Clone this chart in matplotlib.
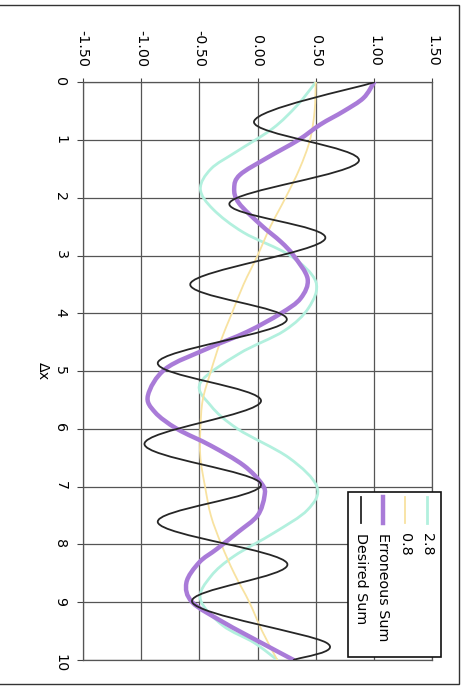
import matplotlib
matplotlib.use("Agg")
import matplotlib.pyplot as plt
import numpy as np
from matplotlib.path import Path
from matplotlib.patches import PathPatch, Rectangle
from matplotlib.lines import Line2D

# values (dx along the vertical axis, value along the horizontal)
cyan_dx = [0, 0.4, 0.8, 1.2, 1.5, 1.85, 2.2, 2.6, 3.0, 3.45, 3.9, 4.3, 4.7, 5.2, 5.6,
           6.0, 6.5, 7.0, 7.4, 7.8, 8.2, 8.55, 8.95, 9.4, 9.7, 10]
cyan_val = [0.50, 0.34, 0.13, -0.18, -0.40, -0.49, -0.38, -0.12, 0.28, 0.50, 0.44, 0.23,
            -0.16, -0.49, -0.40, -0.17, 0.27, 0.51, 0.43, 0.14, -0.20, -0.40, -0.49,
            -0.30, -0.03, 0.17]

yellow_dx = [0, 0.5, 1, 1.5, 2, 2.5, 3, 3.5, 4, 4.5, 5, 5.5, 6, 6.5, 7, 7.5, 8, 8.5, 9, 9.5, 10]
yellow_val = [0.50, 0.49, 0.45, 0.36, 0.24, 0.11, 0.00, -0.12, -0.22, -0.32, -0.40, -0.47,
              -0.49, -0.49, -0.45, -0.40, -0.31, -0.20, -0.07, 0.04, 0.17]

purple_dx = [0, 0.27, 0.5, 0.73, 1.0, 1.31, 1.6, 1.83, 2.09, 2.47, 2.76, 3.0, 3.4, 3.74,
             4.0, 4.32, 4.61, 4.96, 5.42, 5.71, 6.0, 6.29, 6.63, 6.96, 7.16, 7.5, 7.79,
             8.08, 8.31, 8.66, 9.0, 9.35, 9.7, 10]
purple_val = [1.00, 0.91, 0.74, 0.54, 0.35, 0.08, -0.15, -0.20, -0.16, 0.03, 0.20, 0.31,
              0.43, 0.37, 0.20, -0.09, -0.43, -0.79, -0.94, -0.88, -0.69, -0.40, -0.12,
              0.04, 0.06, 0.00, -0.17, -0.35, -0.50, -0.61, -0.56, -0.29, 0.03, 0.31]

black_dx = [0, 0.68, 1.36, 2.09, 2.71, 3.48, 4.12, 4.85, 5.52, 6.26, 6.96, 7.62, 8.33,
            9.0, 9.70, 10]
black_val = [1.00, -0.03, 0.87, -0.24, 0.58, -0.575, 0.25, -0.855, 0.03, -0.97, 0.03,
             -0.855, 0.255, -0.56, 0.59, 0.31]

labels = ["2.8", "0.8", "Erroneous Sum", "Desired Sum"]
colors = ["#b2f0de", "#f8e2a0", "#a97bd8", "#262626"]
widths = [2.0, 1.3, 3.2, 1.3]
value_ticks = [-1.5, -1.0, -0.5, 0.0, 0.5, 1.0, 1.5]
dx_ticks = list(range(0, 11))

W, H = 466, 687


def smooth(vals, dxs):
    # excel-like smoothed line (catmull-rom as cubic beziers)
    pts = np.column_stack([vals, dxs]).astype(float)
    n = len(pts)
    verts = [pts[0]]
    codes = [Path.MOVETO]
    for i in range(n - 1):
        p0 = pts[max(i - 1, 0)]
        p1 = pts[i]
        p2 = pts[i + 1]
        p3 = pts[min(i + 2, n - 1)]
        verts += [p1 + (p2 - p0) / 6, p2 - (p3 - p1) / 6, p2]
        codes += [Path.CURVE4] * 3
    return Path(verts, codes)


def fx(x):
    return x / W


def fy(y):
    return 1 - y / H


fig = plt.figure(figsize=(W / 100, H / 100), dpi=100)
ax = fig.add_axes([fx(82.7), fy(660), (432.3 - 82.7) / W, (660 - 82.3) / H])

series = [(cyan_val, cyan_dx), (yellow_val, yellow_dx), (purple_val, purple_dx),
          (black_val, black_dx)]
for (v, d), c, lw in zip(series, colors, widths):
    ax.add_patch(PathPatch(smooth(v, d), fill=False, edgecolor=c, lw=lw,
                           joinstyle="round", capstyle="round", zorder=3))

ax.set_xlim(-1.5, 1.5)
ax.set_ylim(10, 0)
ax.xaxis.tick_top()
ax.set_xticks(value_ticks)
ax.set_xticklabels(["%.2f" % t for t in value_ticks], rotation=-90, fontsize=10.3)
ax.set_yticks(dx_ticks)
ax.set_yticklabels([str(t) for t in dx_ticks], rotation=-90, fontsize=10.3)
ax.tick_params(axis="x", length=3, width=0.8, color="#444444", pad=8)
ax.tick_params(axis="y", length=4, width=0.8, color="#444444", pad=7)
ax.grid(True, color="#555555", lw=0.9)
ax.set_axisbelow(True)
for s in ax.spines.values():
    s.set_color("#555555")
    s.set_linewidth(0.9)

ax.set_ylabel("Δx", rotation=-90, fontsize=10.3, ha="center", va="center")
ax.yaxis.set_label_coords(-0.115, 0.5)

# rotated legend
fig.add_artist(Rectangle((fx(348), fy(657)), fx(441) - fx(348), fy(492) - fy(657),
                         transform=fig.transFigure, fill=True, facecolor="white",
                         edgecolor="#111111", lw=1.2, zorder=5))
cols = [427, 405, 383, 361]
for x, lab, c, lw in zip(cols, labels, colors, widths):
    fig.add_artist(Line2D([fx(x), fx(x)], [fy(497), fy(523)], transform=fig.transFigure,
                          color=c, lw=lw, zorder=6))
    fig.text(fx(x), fy(533), lab, rotation=-90, ha="center", va="top", fontsize=10.3,
             zorder=6)

# outer chart border
fig.add_artist(Rectangle((fx(-5), fy(684)), fx(459) - fx(-5), fy(5) - fy(684),
                         transform=fig.transFigure, fill=False, edgecolor="#333333",
                         lw=1.0))

fig.savefig("out.png", dpi=100)
